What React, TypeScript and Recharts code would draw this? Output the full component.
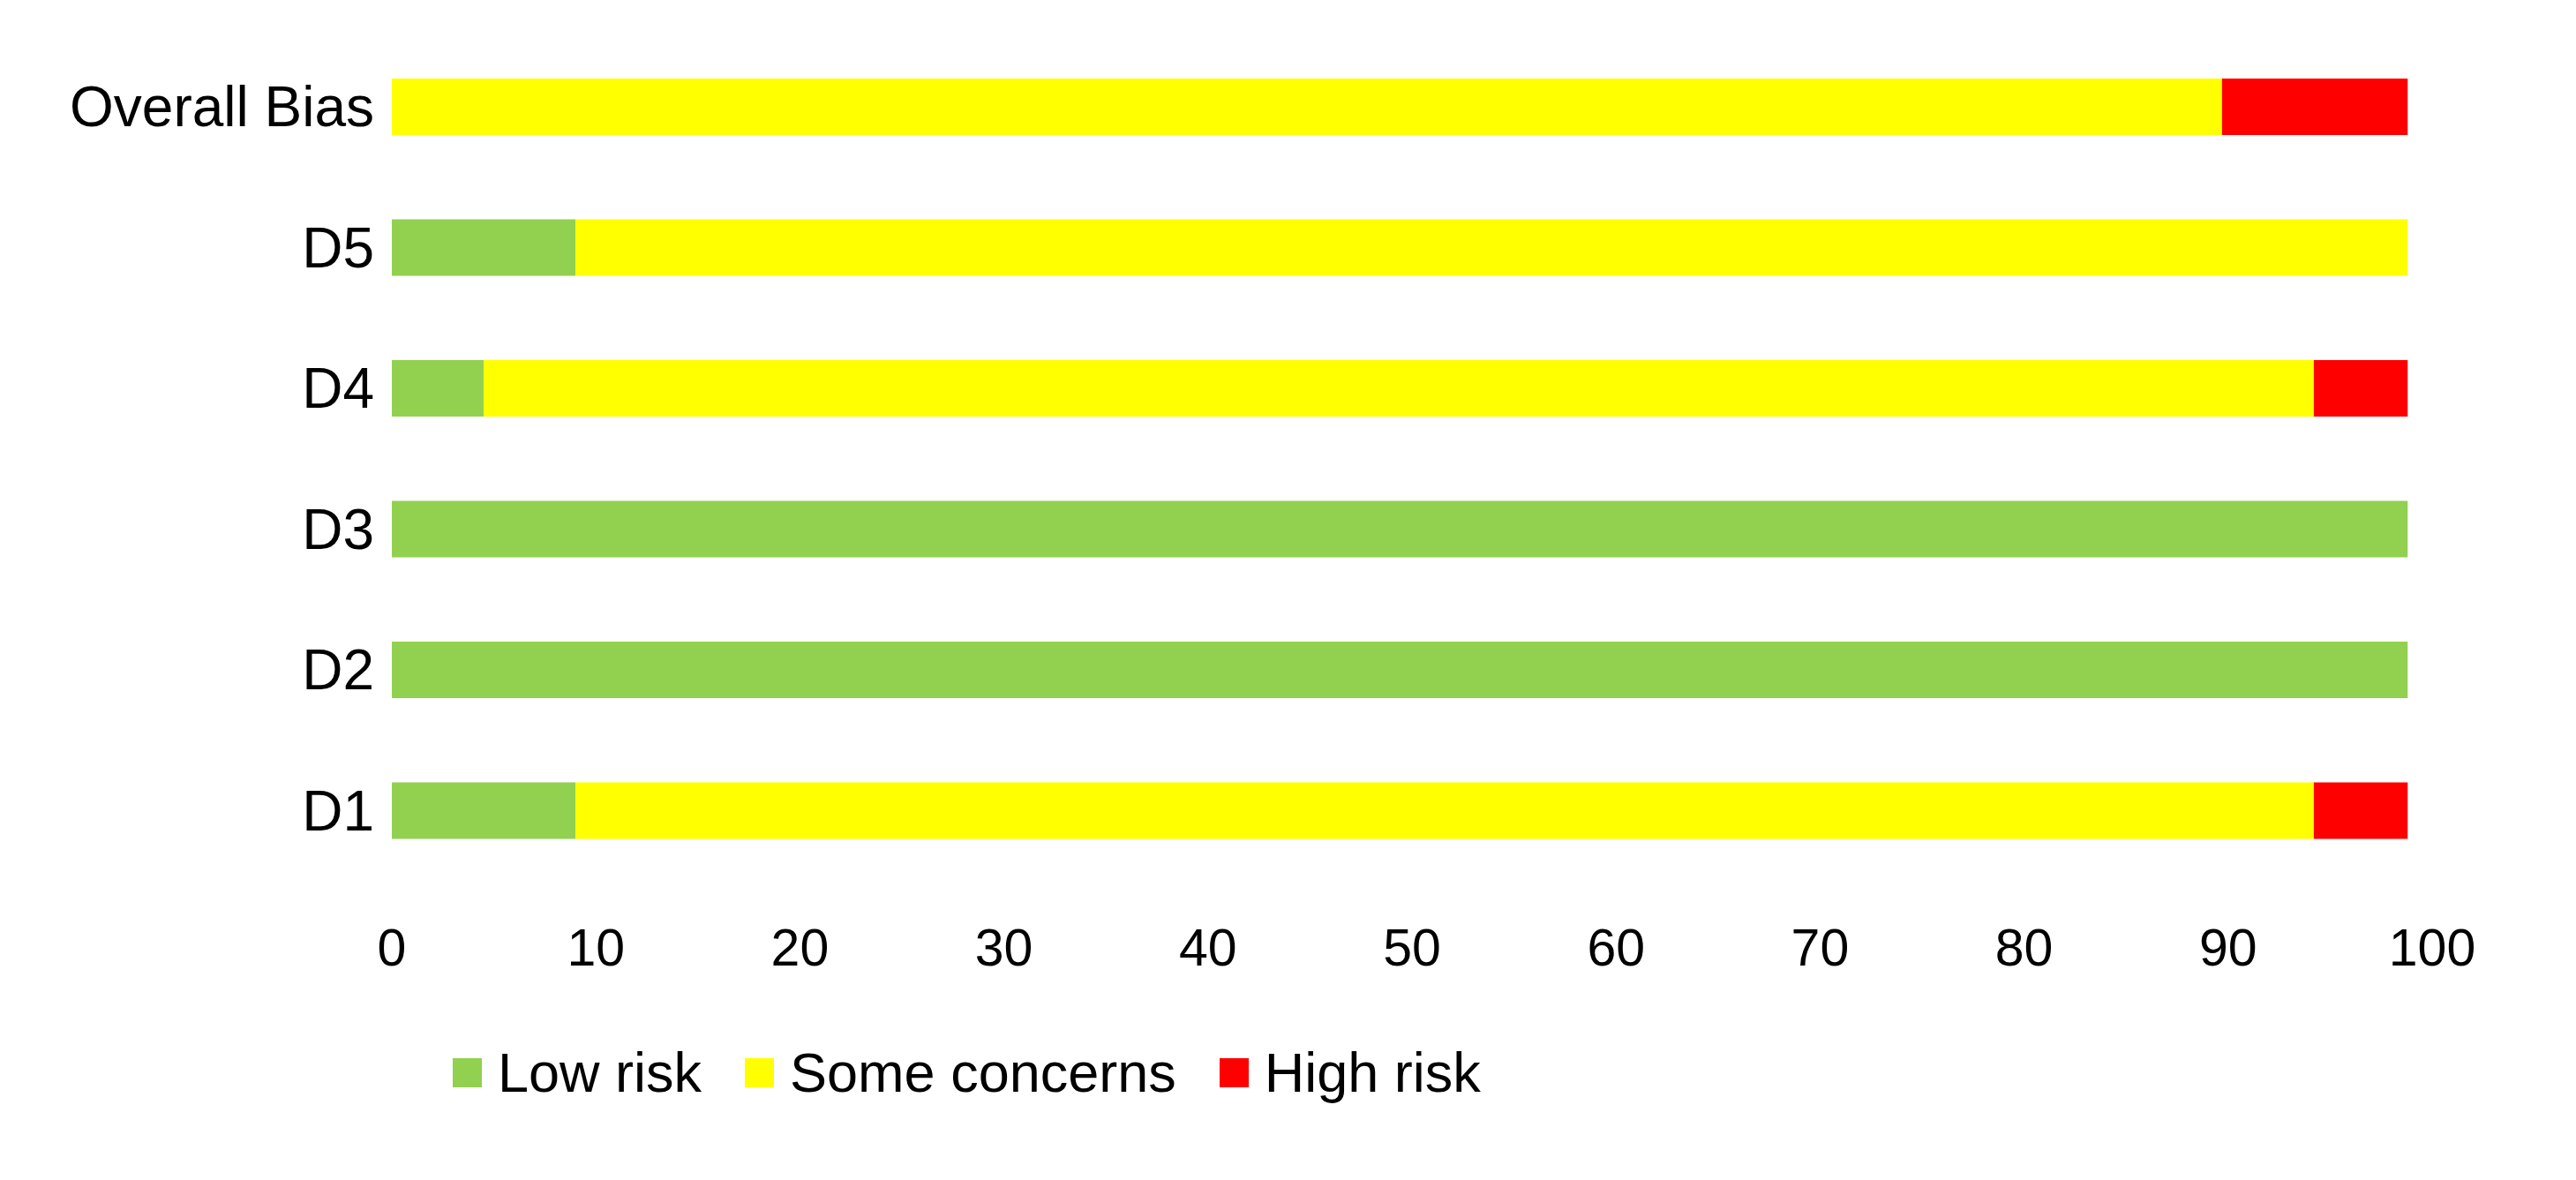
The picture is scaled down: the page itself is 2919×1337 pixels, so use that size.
import React from 'react';
import { BarChart, Bar, XAxis, YAxis } from 'recharts';

// Risk-of-bias domains, top to bottom
const categories = ['Overall Bias', 'D5', 'D4', 'D3', 'D2', 'D1'];
const lowRisk = [0, 9.0, 4.5, 98.8, 98.8, 9.0];
const someConcerns = [89.7, 89.8, 89.7, 0, 0, 85.2];
const highRisk = [9.1, 0, 4.6, 0, 0, 4.6];
const xTicks = [0, 10, 20, 30, 40, 50, 60, 70, 80, 90, 100];

const series = [
  { key: 'low', label: 'Low risk', color: '#92D050' },
  { key: 'some', label: 'Some concerns', color: '#FFFF00' },
  { key: 'high', label: 'High risk', color: '#FF0000' },
];

const FONT = '"Liberation Sans", Arial, sans-serif';

const App: React.FC = () => {
  const data = categories.map((name, i) => ({
    name,
    low: lowRisk[i],
    some: someConcerns[i],
    high: highRisk[i],
  }));

  return (
    <div style={{ position: 'relative', width: 2911, height: 1320, background: '#fff', fontFamily: FONT }}>
      <BarChart
        width={2911}
        height={1320}
        data={data}
        layout="vertical"
        margin={{ top: 33, right: 163, left: 0, bottom: 0 }}
      >
        <XAxis
          type="number"
          domain={[0, 100]}
          ticks={xTicks}
          axisLine={false}
          tickLine={false}
          tickSize={0}
          tickMargin={54}
          interval={0}
          tick={{ fontSize: 59, fill: '#000', fontFamily: FONT }}
          height={330}
        />
        <YAxis
          type="category"
          dataKey="name"
          width={436}
          axisLine={false}
          tickLine={false}
          tickSize={0}
          tickMargin={20}
          interval={0}
          tick={{ fontSize: 64, fill: '#000', fontFamily: FONT }}
        />
        {series.map((s) => (
          <Bar key={s.key} dataKey={s.key} stackId="a" fill={s.color} barSize={64} isAnimationActive={false} />
        ))}
      </BarChart>

      {/* legend under the axis */}
      <div
        style={{
          position: 'absolute',
          left: 505,
          top: 1175,
          height: 64,
          display: 'flex',
          alignItems: 'center',
          fontSize: 63,
          color: '#000',
        }}
      >
        {series.map((s, i) => (
          <div key={s.key} style={{ display: 'flex', alignItems: 'center', marginRight: i < series.length - 1 ? 49 : 0 }}>
            <div style={{ width: 33, height: 33, background: s.color, marginRight: 18 }} />
            <span>{s.label}</span>
          </div>
        ))}
      </div>
    </div>
  );
};

export default App;
